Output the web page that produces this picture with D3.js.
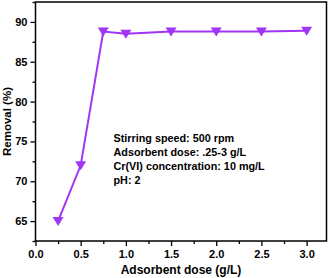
<!DOCTYPE html>
<html>
<head>
<meta charset="utf-8">
<script src="https://cdn.jsdelivr.net/npm/d3@7"></script>
<style>
body { margin: 0; background: #fff; }
text { font-family: "Liberation Sans", Arial, sans-serif; font-weight: bold; }
</style>
</head>
<body>
<div id="chart"></div>
<script>
const doses = [0.25, 0.5, 0.75, 1.0, 1.5, 2.0, 2.5, 3.0];
const removal = [65.0, 72.0, 88.8, 88.5, 88.8, 88.8, 88.8, 88.9];
const xTicks = [0.0, 0.5, 1.0, 1.5, 2.0, 2.5, 3.0];
const yTicks = [65, 70, 75, 80, 85, 90];
const notes = ["Stirring speed: 500 rpm", "Adsorbent dose: .25-3 g/L", "Cr(VI) concentration: 10 mg/L", "pH: 2"];

const width = 331, height = 278;
const margin = {top: 2, right: 4.5, bottom: 37, left: 35.5};
const w = width - margin.left - margin.right;
const h = height - margin.top - margin.bottom;
const color = "#a035f5";

const svg = d3.select("#chart").append("svg")
    .attr("width", width)
    .attr("height", height);

const chart = svg.append("g")
    .attr("transform", `translate(${margin.left},${margin.top})`);

const x = d3.scaleLinear().domain([0, 3.22]).range([0, w]);
const y = d3.scaleLinear().domain([62.5, 92.5]).range([h, 0]);

// minor ticks first
chart.append("g")
    .attr("transform", `translate(0,${h})`)
    .call(d3.axisBottom(x).tickValues(d3.range(0.25, 3.2, 0.5)).tickSize(3).tickFormat(""))
    .call(g => g.select(".domain").remove());
chart.append("g")
    .call(d3.axisLeft(y).tickValues(d3.range(62.5, 92.6, 5)).tickSize(3).tickFormat(""))
    .call(g => g.select(".domain").remove());

const xAxis = chart.append("g")
    .attr("transform", `translate(0,${h})`)
    .call(d3.axisBottom(x).tickValues(xTicks).tickSize(5).tickPadding(4).tickFormat(d3.format(".1f")));
const yAxis = chart.append("g")
    .call(d3.axisLeft(y).tickValues(yTicks).tickSize(5).tickPadding(3));

chart.selectAll(".tick line").attr("stroke", "#000").attr("stroke-width", 1.3);
chart.selectAll(".tick text").style("font-size", "11px").attr("fill", "#000");
xAxis.select(".domain").remove();
yAxis.select(".domain").remove();

// frame
chart.append("rect")
    .attr("width", w)
    .attr("height", h)
    .attr("fill", "none")
    .attr("stroke", "#000")
    .attr("stroke-width", 1.5);

const data = doses.map((d, i) => ({dose: d, val: removal[i]}));

chart.append("path")
    .datum(data)
    .attr("fill", "none")
    .attr("stroke", color)
    .attr("stroke-width", 2)
    .attr("d", d3.line().x(d => x(d.dose)).y(d => y(d.val)));

chart.selectAll(".marker")
    .data(data)
    .join("path")
    .attr("class", "marker")
    .attr("transform", d => `translate(${x(d.dose)},${y(d.val)})`)
    .attr("d", "M-5.5,-4 L5.5,-4 L0,5 Z")
    .attr("fill", color);

chart.selectAll(".note")
    .data(notes)
    .join("text")
    .attr("class", "note")
    .attr("x", 78)
    .attr("y", (d, i) => 140 + i * 14)
    .style("font-size", "10.8px")
    .text(d => d);

svg.append("text")
    .attr("x", margin.left + w / 2)
    .attr("y", 274)
    .attr("text-anchor", "middle")
    .style("font-size", "12px")
    .text("Adsorbent dose (g/L)");

svg.append("text")
    .attr("transform", `translate(11,${margin.top + h / 2}) rotate(-90)`)
    .attr("text-anchor", "middle")
    .style("font-size", "11.5px")
    .text("Removal (%)");
</script>
</body>
</html>
